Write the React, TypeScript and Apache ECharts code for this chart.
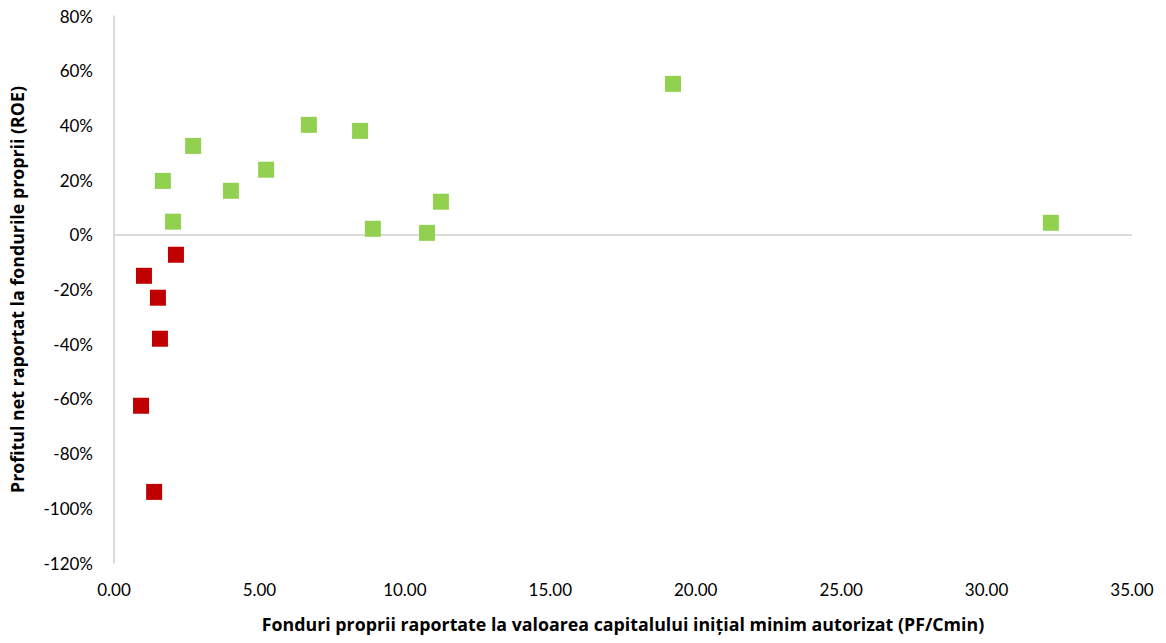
import React, { useEffect, useRef } from "react";
import * as echarts from "echarts";

const xTicks = [0, 5, 10, 15, 20, 25, 30, 35];
const yTicks = [-120, -100, -80, -60, -40, -20, 0, 20, 40, 60, 80];

// [PF/Cmin, ROE %]
const positiveRoe: [number, number][] = [
  [1.68, 19.7],
  [2.03, 4.8],
  [2.72, 32.5],
  [4.02, 16.1],
  [5.23, 23.8],
  [6.7, 40.2],
  [8.46, 38.0],
  [8.9, 2.2],
  [10.76, 0.7],
  [11.24, 12.1],
  [19.22, 55.2],
  [32.21, 4.4],
];

const negativeRoe: [number, number][] = [
  [2.13, -7.3],
  [1.03, -15.0],
  [1.51, -23.0],
  [1.58, -38.0],
  [0.93, -62.5],
  [1.38, -94.0],
];

const xTitle =
  "Fonduri proprii raportate la valoarea capitalului inițial minim autorizat (PF/Cmin)";
const yTitle = "Profitul net raportat la fondurile proprii (ROE)";

const TICK_FONT = "Lato, 'Open Sans', sans-serif";
const TITLE_FONT = "'Open Sans', Lato, sans-serif";

export default function App() {
  const ref = useRef<HTMLDivElement>(null);

  useEffect(() => {
    document.body.style.margin = "0";
    document.body.style.overflow = "hidden";
    if (!ref.current) return;
    const chart = echarts.init(ref.current, undefined, { renderer: "svg" });
    chart.setOption({
      animation: false,
      backgroundColor: "#ffffff",
      textStyle: { fontFamily: TICK_FONT },
      grid: {
        left: 114,
        right: 34,
        top: 16,
        bottom: 80,
        containLabel: false,
        outerBoundsMode: "none",
      },
      xAxis: {
        type: "value",
        min: xTicks[0],
        max: xTicks[xTicks.length - 1],
        interval: 5,
        axisLine: { show: false, onZero: false },
        axisTick: { show: false },
        splitLine: { show: false },
        axisLabel: {
          formatter: (v: number) => v.toFixed(2),
          color: "#000",
          fontSize: 17,
          fontFamily: TICK_FONT,
          margin: 18,
        },
        name: xTitle,
        nameLocation: "middle",
        nameGap: 52,
        nameTextStyle: { fontSize: 17.8, fontWeight: "bold", color: "#000", fontFamily: TITLE_FONT },
      },
      yAxis: {
        type: "value",
        min: yTicks[0],
        max: yTicks[yTicks.length - 1],
        interval: 20,
        axisLine: { show: true, lineStyle: { color: "#cfcfcf", width: 1.5 } },
        axisTick: { show: false },
        splitLine: { show: false },
        axisLabel: {
          formatter: (v: number) => `${v}%`,
          color: "#000",
          fontSize: 17,
          fontFamily: TICK_FONT,
          margin: 21,
        },
        name: yTitle,
        nameLocation: "middle",
        nameGap: 88,
        nameTextStyle: { fontSize: 17.8, fontWeight: "bold", color: "#000", fontFamily: TITLE_FONT },
      },
      series: [
        {
          type: "scatter",
          data: positiveRoe,
          symbol: "rect",
          symbolSize: 16,
          itemStyle: { color: "#92D050", opacity: 1 },
          z: 3,
          markLine: {
            silent: true,
            symbol: "none",
            label: { show: false },
            lineStyle: { color: "#cfcfcf", width: 1.5, type: "solid" },
            data: [{ yAxis: 0 }],
            z: 1,
          },
        },
        {
          type: "scatter",
          data: negativeRoe,
          symbol: "rect",
          symbolSize: 16,
          itemStyle: { color: "#C00000", opacity: 1 },
          z: 3,
        },
      ],
    });
    return () => chart.dispose();
  }, []);

  return (
    <div
      ref={ref}
      style={{ position: "absolute", left: 0, top: 0, width: 1166, height: 643 }}
    />
  );
}
